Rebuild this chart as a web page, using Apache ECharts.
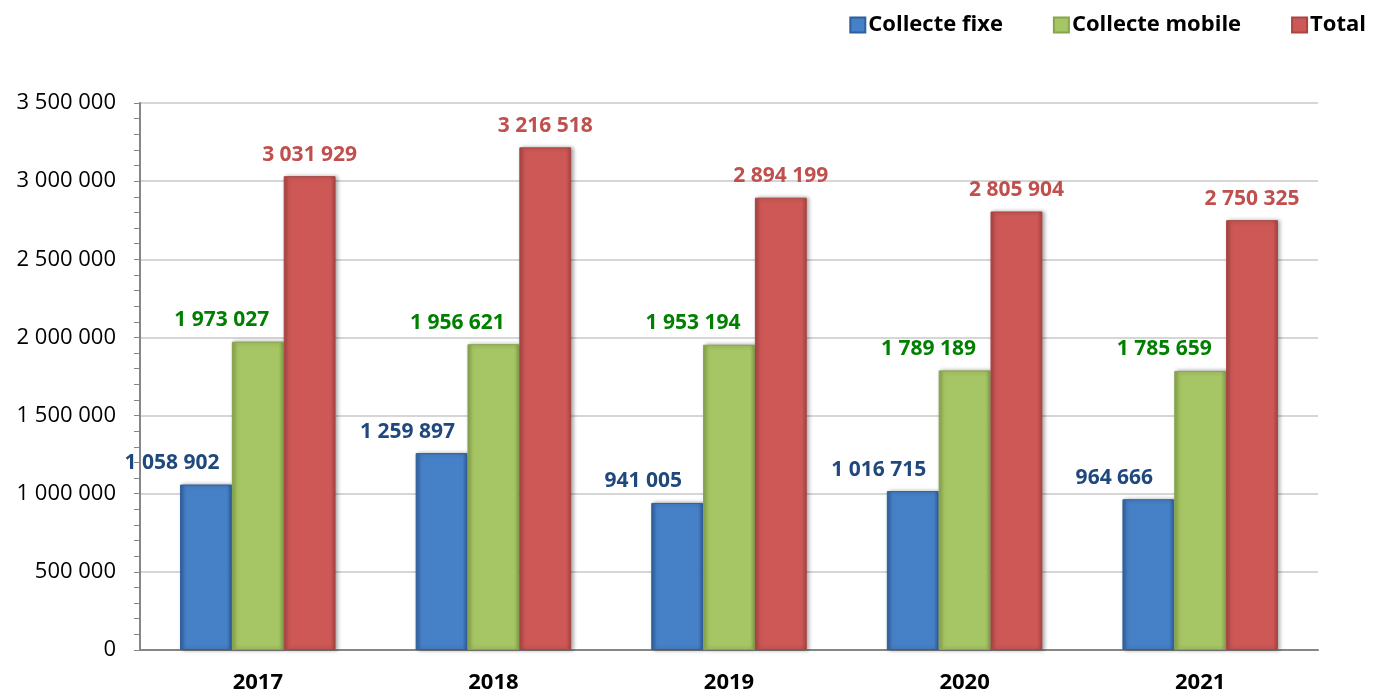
<!DOCTYPE html>
<html>
<head>
<meta charset="utf-8">
<script src="https://cdn.jsdelivr.net/npm/echarts@6/dist/echarts.min.js"></script>
<style>
  html, body { margin: 0; padding: 0; background: #fff; }
  #chart { width: 1385px; height: 696px; }
</style>
</head>
<body>
<div id="chart"></div>
<script>
// Annual blood collection volumes by collection type
const years = ['2017', '2018', '2019', '2020', '2021'];
const collecteFixe = [1058902, 1259897, 941005, 1016715, 964666];
const collecteMobile = [1973027, 1956621, 1953194, 1789189, 1785659];
const total = [3031929, 3216518, 2894199, 2805904, 2750325];
const seriesNames = ['Collecte fixe', 'Collecte mobile', 'Total'];

const FONT = '"Open Sans", "Liberation Sans", sans-serif';

// French-style thousands grouping: 1 058 902
function fmt(v) {
  return String(v).replace(/\B(?=(\d{3})+(?!\d))/g, ' ');
}

// Bevelled look: darker edges, lighter middle
function bevel(edge, mid) {
  return new echarts.graphic.LinearGradient(0, 0, 1, 0, [
    { offset: 0, color: edge },
    { offset: 0.1, color: mid },
    { offset: 0.9, color: mid },
    { offset: 1, color: edge }
  ]);
}

const palettes = [
  { edge: '#2f5f9e', mid: '#4680c6', label: '#1f497d', legend: '#3a6db0' },
  { edge: '#86a54a', mid: '#a6c564', label: '#008000', legend: '#9bbb59' },
  { edge: '#a84442', mid: '#cd5856', label: '#c0504d', legend: '#c0504d' }
];

function makeSeries(name, data, idx, offsetX) {
  const p = palettes[idx];
  return {
    name: name,
    type: 'bar',
    data: data,
    barGap: '0%',
    barCategoryGap: '34%',
    itemStyle: {
      color: bevel(p.edge, p.mid),
      borderColor: p.edge,
      borderWidth: 1,
      shadowColor: 'rgba(0,0,0,0.35)',
      shadowBlur: 4,
      shadowOffsetX: 2
    },
    label: {
      show: true,
      position: 'top',
      distance: 11,
      offset: [offsetX, 0],
      formatter: (d) => fmt(d.value),
      color: p.label,
      fontFamily: FONT,
      fontWeight: 'bold',
      fontSize: 21
    }
  };
}

const chart = echarts.init(document.getElementById('chart'), null, { renderer: 'canvas' });
chart.setOption({
  animation: false,
  color: palettes.map(p => p.legend),
  legend: {
    data: seriesNames,
    top: 9,
    right: 14,
    itemWidth: 15,
    itemHeight: 15,
    itemGap: 50,
    icon: 'rect',
    textStyle: { fontFamily: FONT, fontWeight: 'bold', fontSize: 22, color: '#000', padding: [0, 0, 0, -2] }
  },
  grid: { left: 140, right: 67, top: 103, bottom: 46, containLabel: false },
  xAxis: {
    type: 'category',
    data: years,
    axisLine: { lineStyle: { color: '#868686', width: 2 } },
    axisTick: { show: false },
    axisLabel: { fontFamily: FONT, fontWeight: 'bold', fontSize: 22, color: '#000', margin: 22 }
  },
  yAxis: {
    type: 'value',
    min: 0,
    max: 3500000,
    interval: 500000,
    axisLine: { show: true, lineStyle: { color: '#868686', width: 2 } },
    axisTick: { show: true, length: 6, lineStyle: { color: '#868686' } },
    minorTick: { show: true, splitNumber: 5, length: 6, lineStyle: { color: '#868686' } },
    splitLine: { lineStyle: { color: '#c8c8c8', width: 1.5 } },
    axisLabel: { formatter: fmt, fontFamily: FONT, fontSize: 22, color: '#000', margin: 24 }
  },
  series: [
    makeSeries(seriesNames[0], collecteFixe, 0, -34),
    makeSeries(seriesNames[1], collecteMobile, 1, -36),
    makeSeries(seriesNames[2], total, 2, 0)
  ]
});
</script>
</body>
</html>
